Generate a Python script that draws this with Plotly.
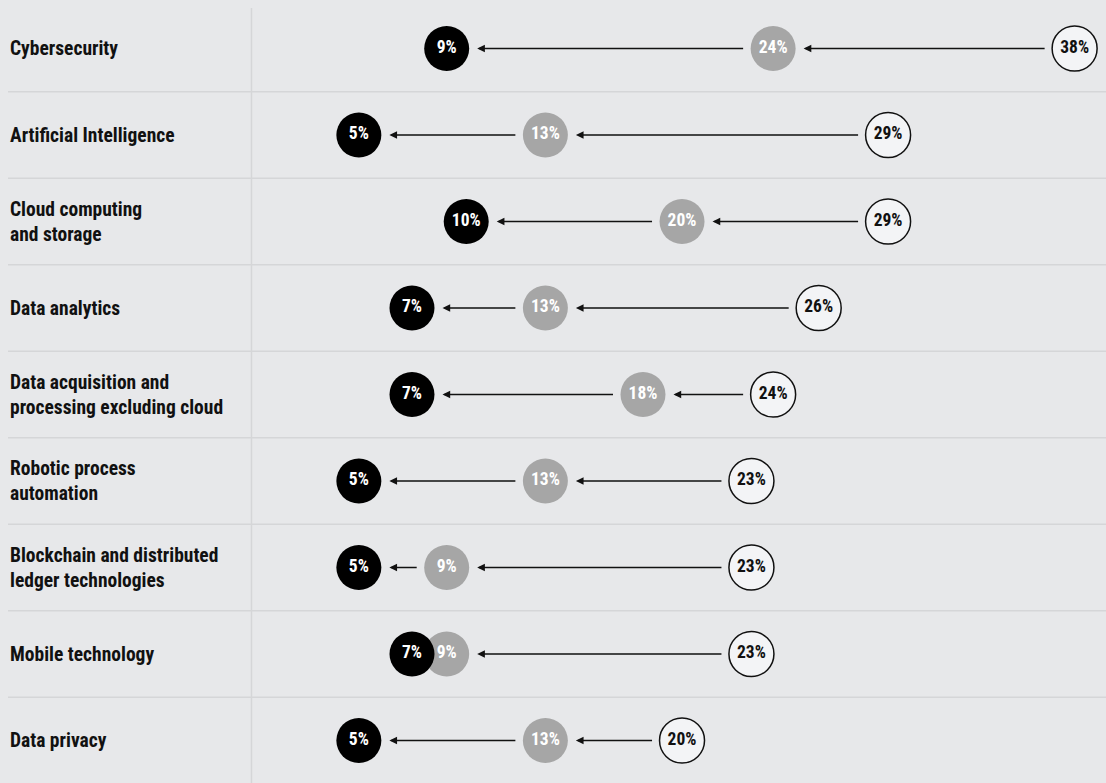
import plotly.graph_objects as go

categories = [
    "Cybersecurity",
    "Artificial Intelligence",
    "Cloud computing<br>and storage",
    "Data analytics",
    "Data acquisition and<br>processing excluding cloud",
    "Robotic process<br>automation",
    "Blockchain and distributed<br>ledger technologies",
    "Mobile technology",
    "Data privacy",
]

# displayed percentages
start_labels = [38, 29, 29, 26, 24, 23, 23, 23, 20]
mid_labels = [24, 13, 20, 13, 18, 13, 9, 9, 13]
end_labels = [9, 5, 10, 7, 7, 5, 5, 7, 5]

# plotted positions
start_vals = [38.0, 29.4, 29.4, 26.2, 24.1, 23.1, 23.1, 23.1, 19.9]
mid_vals = [24.1, 13.6, 19.9, 13.6, 18.1, 13.6, 9.05, 9.05, 13.6]
end_vals = [9.05, 5.0, 9.95, 7.45, 7.45, 5.0, 5.0, 7.45, 5.0]

W, H = 1106, 783
BG = "#e7e8ea"
LINE = "#d5d6d8"
LABEL_FONT = "Roboto Condensed, Roboto, sans-serif"

rows = list(range(len(categories)))

fig = go.Figure()

def circles(vals, labels, fill, border, txtcol):
    fig.add_trace(go.Scatter(
        x=vals, y=rows, mode="markers+text",
        marker=dict(size=45, color=fill, line=dict(color=border, width=1.5 if border != fill else 0)),
        text=[f"{v}%" for v in labels], textposition="middle center",
        textfont=dict(family=LABEL_FONT, size=17.5, color=txtcol, weight="bold"),
        hoverinfo="skip", showlegend=False, cliponaxis=False,
    ))

circles(start_vals, start_labels, "#f3f4f6", "#111111", "#111111")
circles(mid_vals, mid_labels, "#a6a6a6", "#a6a6a6", "#ffffff")
circles(end_vals, end_labels, "#000000", "#000000", "#ffffff")

px_per_unit = 21.69
radius = 22.5
annotations = []
for i in rows:
    pairs = [(start_vals[i], mid_vals[i]), (mid_vals[i], end_vals[i])]
    for a, b in pairs:
        gap_px = (a - b) * px_per_unit - 2 * radius
        if gap_px < 25:
            continue
        annotations.append(dict(
            x=b, y=i, ax=a, ay=i, xref="x", yref="y", axref="x", ayref="y",
            text="", showarrow=True, arrowhead=2, arrowsize=1.1, arrowwidth=1.4,
            arrowcolor="#111111", standoff=radius + 8, startstandoff=radius + 6,
        ))
    annotations.append(dict(
        x=8 / W, y=i, xref="paper", yref="y", text=f"<b>{categories[i]}</b>",
        showarrow=False, xanchor="left", yanchor="middle", align="left",
        font=dict(family=LABEL_FONT, size=19.5, color="#111111"),
    ))

shapes = []
for i in rows[:-1]:
    shapes.append(dict(type="line", xref="paper", yref="y", x0=8 / W, x1=1,
                       y0=i + 0.5, y1=i + 0.5, line=dict(color=LINE, width=1.5), layer="below"))
shapes.append(dict(type="line", xref="x", yref="paper", x0=0.05, x1=0.05,
                   y0=1 - 8 / H, y1=0, line=dict(color=LINE, width=1.5), layer="below"))

x0_px, scale = 250.4, px_per_unit
y0_px, row_h = 48.5, 86.5
fig.update_layout(
    width=W, height=H, margin=dict(l=0, r=0, t=0, b=0),
    paper_bgcolor=BG, plot_bgcolor=BG,
    xaxis=dict(range=[-x0_px / scale, (W - x0_px) / scale], visible=False, fixedrange=True),
    yaxis=dict(range=[(H - y0_px) / row_h, -y0_px / row_h], visible=False, fixedrange=True),
    annotations=annotations, shapes=shapes,
)

fig.write_html(
    "out.html",
    config={"displayModeBar": False},
    post_script="document.body.style.margin='0';document.body.style.background='" + BG + "';",
)
